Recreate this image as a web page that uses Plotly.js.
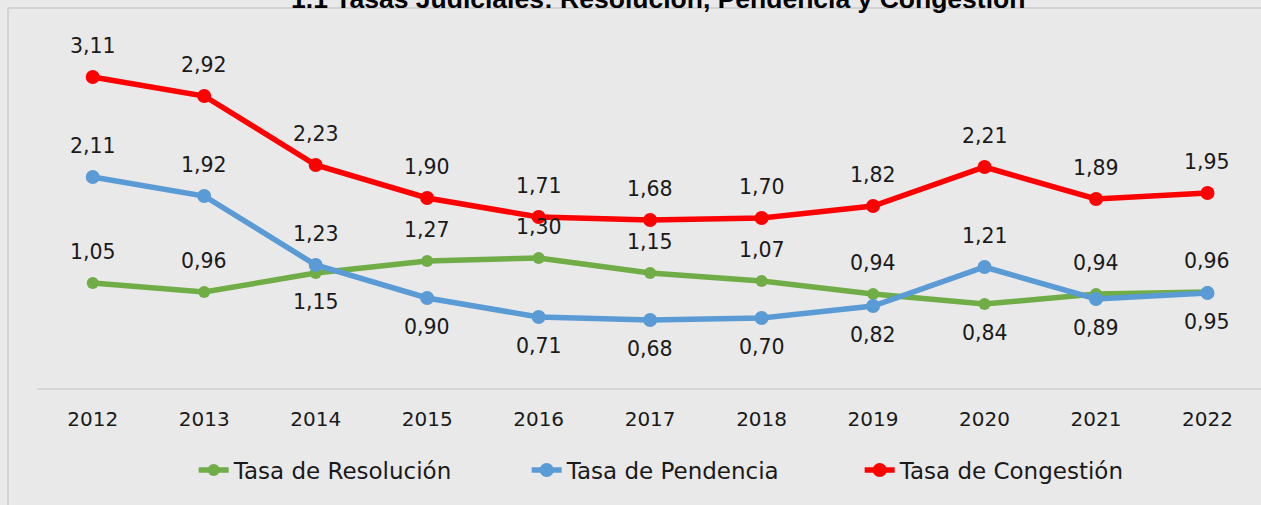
<!DOCTYPE html>
<html>
<head>
<meta charset="utf-8">
<script src="https://cdn.plot.ly/plotly-3.0.1.min.js"></script>
<style>html,body{margin:0;padding:0;background:#e9e9e9;}#chart{width:1261px;height:505px;}</style>
</head>
<body>
<div id="chart"></div>
<script>
const years = ['2012','2013','2014','2015','2016','2017','2018','2019','2020','2021','2022'];
const resolucion = [1.05, 0.96, 1.15, 1.27, 1.30, 1.15, 1.07, 0.94, 0.84, 0.94, 0.96];
const pendencia  = [2.11, 1.92, 1.23, 0.90, 0.71, 0.68, 0.70, 0.82, 1.21, 0.89, 0.95];
const congestion = [3.11, 2.92, 2.23, 1.90, 1.71, 1.68, 1.70, 1.82, 2.21, 1.89, 1.95];
// label side for each point: 'up' or 'down'
const resolucionLabelSide = ['up','up','down','up','up','up','up','up','down','up','up'];
const pendenciaLabelSide  = ['up','up','up','down','down','down','down','down','up','down','down'];
const congestionLabelSide = ['up','up','up','up','up','up','up','up','up','up','up'];
const seriesNames = ['Tasa de Resolución','Tasa de Pendencia','Tasa de Congestión'];
const titleText = '1.1 Tasas Judiciales: Resolución, Pendencia y Congestión';

const colors = ['#70ad47','#5b9bd5','#ff0000'];
const seriesVals = [resolucion, pendencia, congestion];
const seriesSides = [resolucionLabelSide, pendenciaLabelSide, congestionLabelSide];
const FONT = 'DejaVu Sans, sans-serif';

const traces = seriesVals.map((vals, i) => ({
  type: 'scatter', mode: 'lines+markers',
  x: years, y: vals, name: seriesNames[i],
  line: {color: colors[i], width: 5.5},
  marker: {color: colors[i], size: i === 0 ? 12 : 14},
  cliponaxis: false
}));

const fmt = v => v.toFixed(2).replace('.', ',');
const annotations = [];
seriesVals.forEach((vals, i) => {
  vals.forEach((v, j) => {
    annotations.push({
      x: j, y: v, xref: 'x', yref: 'y',
      text: fmt(v), showarrow: false,
      xanchor: 'center', yanchor: 'middle',
      yshift: seriesSides[i][j] === 'up' ? 31 : -29,
      font: {family: FONT, size: 20.5, color: '#1a1a1a'}
    });
  });
});

const layout = {
  width: 1261, height: 505,
  paper_bgcolor: '#e9e9e9', plot_bgcolor: '#e9e9e9',
  margin: {l: 37, r: 0, t: 8, b: 117},
  title: {
    text: '<b>' + titleText + '</b>',
    font: {family: 'Liberation Sans, Arial, sans-serif', size: 26.5, color: '#000'},
    xref: 'container', yref: 'paper', x: 0.522, xanchor: 'center', y: 1, yanchor: 'bottom',
    pad: {b: 0, t: 0, l: 0, r: 0}
  },
  xaxis: {
    type: 'category', range: [-0.5, 10.48],
    showline: true, linecolor: '#d6d6d6', linewidth: 2,
    showgrid: false, zeroline: false, ticks: '',
    ticklabelstandoff: 12,
    tickfont: {family: FONT, size: 20, color: '#1a1a1a'}
  },
  yaxis: {
    range: [0, 3.8], showticklabels: false, showline: false, ticks: '', showgrid: false, zeroline: false
  },
  showlegend: true,
  legend: {
    orientation: 'h', x: 0.128, xanchor: 'left', y: -0.216, yanchor: 'middle',
    font: {family: FONT, size: 23, color: '#1a1a1a'},
    bgcolor: 'rgba(0,0,0,0)', entrywidth: 288, entrywidthmode: 'pixels',
    traceorder: 'normal'
  },
  shapes: [
    {type: 'line', xref: 'paper', yref: 'paper', x0: -0.0237, x1: -0.0237, y0: -0.32, y1: 1,
     line: {color: '#d2d2d2', width: 2}},
    {type: 'line', xref: 'paper', yref: 'paper', x0: -0.0237, x1: 1.01, y0: 1, y1: 1,
     line: {color: '#d2d2d2', width: 2}}
  ],
  annotations: annotations,
  hovermode: false
};

Plotly.newPlot('chart', traces, layout, {displayModeBar: false, staticPlot: true});
</script>
</body>
</html>
